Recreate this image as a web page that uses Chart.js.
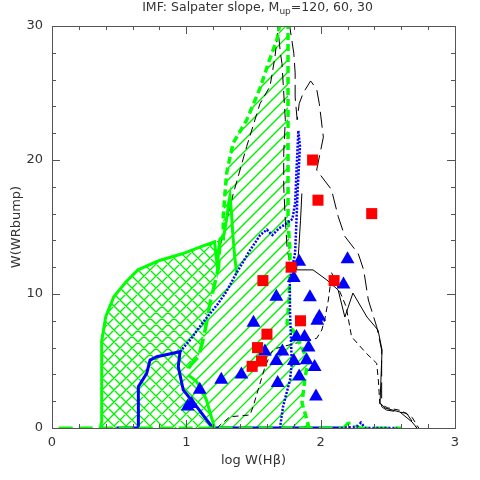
<!DOCTYPE html>
<html><head><meta charset="utf-8">
<script src="https://cdn.jsdelivr.net/npm/chart.js@4.4.0/dist/chart.umd.min.js"></script>
<style>html,body{margin:0;padding:0;background:#fff}</style>
</head><body>
<canvas id="c" width="480" height="480" style="width:480px;height:480px;display:block"></canvas>
<script>
// ---------- data ----------
const redSquaresX = [1.94,1.98,2.38,1.78,1.57,2.10,1.85,1.60,1.53,1.56,1.49];
const redSquaresY = [20.0,17.0,16.0,12.0,11.0,11.0,8.0,7.0,6.0,5.0,4.6];

const blueTrianglesX = [1.84,2.20,1.80,2.17,1.67,1.92,1.50,1.99,1.975,1.82,1.88,1.585,1.715,1.91,1.67,1.80,1.895,1.955,1.41,1.26,1.84,1.68,1.965,1.10,1.01,1.04];
const blueTrianglesY = [12.4,12.6,11.2,10.7,9.8,9.75,7.85,8.3,8.0,6.8,6.8,5.7,5.7,6.0,5.0,5.0,5.05,4.55,4.0,3.6,3.85,3.35,2.35,2.85,1.6,1.8];

const crossHatchX = [0.36,0.37,0.37,0.40,0.46,0.55,0.64,0.80,0.97,1.10,1.24,1.25,1.24,1.20,1.176,1.15,1.125,1.09,1.04,0.99,1.015,1.077,1.115,1.15,1.21];
const crossHatchY = [0,0.5,6.5,8.3,9.8,10.9,11.8,12.5,13.0,13.5,14.0,14.0,12.0,10.3,9.3,7.8,6.6,5.3,4.8,4.1,3.96,3.46,2.84,2.09,0];

const singleHatchX = [1.21,1.15,1.115,1.077,1.015,0.99,1.04,1.09,1.125,1.15,1.176,1.20,1.24,1.25,1.275,1.275,1.29,1.30,1.325,1.35,1.45,1.55,1.62,1.675,1.70,1.757,1.757,1.757,1.772,1.765,1.75,1.80,1.87,1.906,1.884,1.861,1.898,1.913];
const singleHatchY = [0,2.09,2.84,3.46,3.96,4.1,4.8,5.3,6.6,7.8,9.3,10.3,12.0,14.0,14.0,15.8,17.8,19.0,20.2,21.3,23.0,25.4,27.5,29.0,30,30,23.0,15.5,13.06,9.55,7.8,7.2,5.8,4.85,3.81,1.87,0.6,0];

const greenSolidX = [0.36,0.37,0.37,0.40,0.46,0.55,0.64,0.80,0.97,1.10,1.21,1.23,1.25,1.28,1.30,1.315,1.325,1.335,1.345,1.36,1.375];
const greenSolidY = [0,0.5,6.5,8.3,9.8,10.9,11.8,12.5,13.0,13.5,13.9,12.1,14.1,14.4,15.6,16.8,17.3,16.2,14.6,12.8,11.5];
const greenSolidLowX = [1.015,1.077,1.115,1.15,1.21];
const greenSolidLowY = [3.96,3.46,2.84,2.09,0];

const greenLongDashX = [1.25,1.24,1.20,1.176,1.15,1.125,1.09,1.04,0.99];
const greenLongDashY = [14.0,12.0,10.3,9.3,7.8,6.6,5.3,4.8,4.1];

const greenShortDashX = [1.275,1.275,1.29,1.30,1.325,1.35,1.45,1.55,1.62,1.675,1.73,1.757,1.757,1.757,1.772,1.765,1.75,1.80,1.87,1.906,1.884,1.861,1.898,1.913];
const greenShortDashY = [14.0,15.8,17.8,19.0,20.2,21.3,23.0,25.4,27.5,29.0,32,30,23.0,15.5,13.06,9.55,7.8,7.2,5.8,4.85,3.81,1.87,0.6,0];

const greenBaseX = [0.05,2.17,2.20,2.24,2.27,2.30,2.60];
const greenBaseY = [0,0,0.35,0.4,0.1,0,0];

const blueSolidX = [0.48,0.643,0.643,0.705,0.73,0.78,0.953,0.94,0.977,1.077,1.19,1.20,2.15];
const blueSolidY = [0,0,3.08,4.08,5.07,5.32,5.69,4.57,2.84,1.59,0.1,0,0];

const blueDotX = [0.953,1.03,1.125,1.23,1.30,1.375,1.47,1.55,1.60,1.64,1.69,1.75,1.79,1.81,1.82,1.834,1.846,1.83,1.82,1.81,1.77,1.772,1.785,1.772,1.72,1.697];
const blueDotY = [5.69,6.6,7.9,9.2,10.2,11.6,13.2,14.4,14.8,14.4,14.9,15.3,15.6,16.8,19.2,22.2,21.0,18.0,15.5,13.1,11.0,8.6,4.85,3.6,1.6,0];
const blueDotBaseX = [2.15,2.27,2.30,2.33,2.57];
const blueDotBaseY = [0,0.1,0.4,0,0];

const blackLongDashX = [1.762,1.80,1.81,1.81,1.825,1.84,1.87,1.925,1.97,1.99,2.02,1.97,2.08,2.13,2.18,2.28,2.32,2.355,2.417,2.454,2.454,2.49,2.64,2.715];
const blackLongDashY = [30.5,27.96,26.5,24.7,23.0,24.2,25.0,25.9,25.3,24.2,21.7,19.25,17.8,15.8,14.3,13.0,11.8,9.55,7.56,5.82,1.59,1.34,1.1,0];

const blackDashInnerX = [1.675,1.70,1.712,1.725,1.737,1.725,1.725,1.737,1.75,1.765];
const blackDashInnerY = [30.5,28.0,27.2,25.0,23.0,20.5,18.0,15.5,13.5,12.5];

const blackShortLeftX = [1.69,1.66,1.623,1.548,1.449,1.35,1.275,1.25];
const blackShortLeftY = [30.5,27.7,25.5,24.2,21.0,17.5,14.5,13.5];

const blackShortRightX = [1.226,1.325,1.474,1.497,1.534,1.586,1.635,1.673,1.81,1.97,2.008,2.03,2.057,2.07,2.08,2.10,2.15,2.19,2.23,2.34,2.417,2.43,2.44,2.50,2.60,2.68,2.73];
const blackShortRightY = [0,0.84,0.97,1.59,2.84,4.57,5.69,5.95,6.32,6.69,7.31,8.06,9.55,10.55,11.6,11.2,10.0,9.05,6.81,5.57,4.83,3.5,1.8,1.5,1.3,0.8,0];

const blackSolidX = [1.86,1.85,1.835,1.82,1.943,2.047,2.13,2.18,2.24,2.345,2.427,2.457,2.442,2.48,2.59,2.68,2.717];
const blackSolidY = [17.5,15.5,13.06,11.8,11.8,11.04,10.3,8.28,10.07,8.28,7.31,5.82,1.87,1.49,1.19,0.45,0];

const xTickLabels = [0,1,2,3];
const yTickLabels = [0,10,20,30];
const xMinorTicks = [0.2,0.4,0.6,0.8,1.2,1.4,1.6,1.8,2.2,2.4,2.6,2.8];
const yMinorTicks = [2,4,6,8,12,14,16,18,22,24,26,28];

const titleMain = 'IMF: Salpater slope, M';
const titleSub = 'up';
const titleRest = '=120, 60, 30';
const xTitle = 'log W(H\u03B2)';
const yTitle = 'W(WRbump)';

// ---------- helpers ----------
function pts(xs, ys){ return xs.map((x,i)=>({x:x, y:ys[i]})); }
const GREEN = '#00ff00', BLUE = '#0000ff', RED = '#ff0000', BLACK = '#000000';
const HATCH = '#00f000';
function lineDs(xs, ys, color, width, dash, order){
  return {type:'scatter', showLine:true, data:pts(xs,ys), borderColor:color, borderWidth:width,
    borderDash:dash, pointRadius:0, fill:false, tension:0, order:order};
}

const TXT = '#333333';
const FONT = 'DejaVu Sans';

// hatched areas: polygon from the data arrays through the chart's scales, then clipped diagonal lines
function hatchRegion(chart, xs, ys, cross){
  const {ctx, chartArea:a, scales:{x, y}} = chart;
  ctx.save();
  ctx.beginPath();
  ctx.rect(a.left, a.top, a.right-a.left, a.bottom-a.top);
  ctx.clip();
  ctx.beginPath();
  xs.forEach((v,i)=>{
    const px = x.getPixelForValue(v), py = y.getPixelForValue(ys[i]);
    if (i===0) ctx.moveTo(px,py); else ctx.lineTo(px,py);
  });
  ctx.closePath();
  ctx.clip();
  ctx.strokeStyle = HATCH; ctx.lineWidth = 1.3;
  ctx.beginPath();
  const sp = 12, W = chart.width, H = chart.height;
  for (let k = -H; k < W + H; k += sp){
    ctx.moveTo(k, H); ctx.lineTo(k + H, 0);
    if (cross){ ctx.moveTo(k, 0); ctx.lineTo(k + H, H); }
  }
  ctx.stroke();
  ctx.restore();
}
const hatchPlugin = {
  id:'hatch',
  beforeDatasetsDraw(chart){
    hatchRegion(chart, singleHatchX, singleHatchY, false);
    hatchRegion(chart, crossHatchX, crossHatchY, true);
  }
};

const framePlugin = {
  id:'frame',
  afterDraw(chart){
    const {ctx, chartArea:a, scales:{x, y}} = chart;
    ctx.save();
    ctx.strokeStyle = '#555555'; ctx.lineWidth = 1;
    ctx.strokeRect(Math.round(a.left)+0.5, Math.round(a.top)+0.5, Math.round(a.right-a.left), Math.round(a.bottom-a.top));
    ctx.beginPath();
    const tk = (v, len, horiz) => {
      if (horiz){
        const px = Math.round(x.getPixelForValue(v))+0.5;
        ctx.moveTo(px, a.bottom); ctx.lineTo(px, a.bottom-len);
        ctx.moveTo(px, a.top); ctx.lineTo(px, a.top+len);
      } else {
        const py = Math.round(y.getPixelForValue(v))+0.5;
        ctx.moveTo(a.left, py); ctx.lineTo(a.left+len, py);
        ctx.moveTo(a.right, py); ctx.lineTo(a.right-len, py);
      }
    };
    xTickLabels.forEach(v=>tk(v,8,true));
    xMinorTicks.forEach(v=>tk(v,4,true));
    yTickLabels.forEach(v=>tk(v,8,false));
    yMinorTicks.forEach(v=>tk(v,4,false));
    ctx.stroke();
    ctx.fillStyle = TXT;
    ctx.textBaseline = 'alphabetic';
    ctx.textAlign = 'left';
    const f1 = '12.5px "' + FONT + '"', f2 = '9px "' + FONT + '"';
    ctx.font = f1; const w1 = ctx.measureText(titleMain).width; const w3 = ctx.measureText(titleRest).width;
    ctx.font = f2; const w2 = ctx.measureText(titleSub).width;
    let sx = (a.left + a.right)/2 + 4 - (w1+w2+w3)/2;
    ctx.font = f1; ctx.fillText(titleMain, sx, 11);
    ctx.font = f2; ctx.fillText(titleSub, sx + w1, 14);
    ctx.font = f1; ctx.fillText(titleRest, sx + w1 + w2, 11);
    ctx.restore();
  }
};

const datasets = [
  {type:'scatter', data:pts(redSquaresX, redSquaresY), pointStyle:'rect', pointRadius:7.8,
    backgroundColor:RED, borderColor:RED, borderWidth:0, showLine:false, order:0},
  {type:'scatter', data:pts(blueTrianglesX, blueTrianglesY), pointStyle:'triangle', pointRadius:8,
    backgroundColor:BLUE, borderColor:BLUE, borderWidth:0, showLine:false, order:1},
  lineDs(blueDotX, blueDotY, BLUE, 2.5, [2,1.5], 3),
  lineDs(blueDotBaseX, blueDotBaseY, BLUE, 2.5, [2,2], 3),
  lineDs(greenShortDashX, greenShortDashY, GREEN, 3.5, [7,4], 4),
  lineDs(greenLongDashX, greenLongDashY, GREEN, 3.5, [14,6], 4),
  lineDs(greenSolidX, greenSolidY, GREEN, 3, [], 4),
  lineDs(greenSolidLowX, greenSolidLowY, GREEN, 3, [], 4),
  lineDs(greenBaseX, greenBaseY, GREEN, 3, [14,6], 5),
  lineDs(blueSolidX, blueSolidY, BLUE, 3, [], 6),
  lineDs(blackLongDashX, blackLongDashY, BLACK, 1, [16,6], 7),
  lineDs(blackDashInnerX, blackDashInnerY, BLACK, 1, [12,6], 7),
  lineDs(blackShortLeftX, blackShortLeftY, BLACK, 1, [9,5], 7),
  lineDs(blackShortRightX, blackShortRightY, BLACK, 1, [6,4], 7),
  lineDs(blackSolidX, blackSolidY, BLACK, 1, [], 7)
];

new Chart(document.getElementById('c'), {
  type:'scatter',
  data:{datasets:datasets},
  plugins:[hatchPlugin, framePlugin],
  options:{
    responsive:false, animation:false, devicePixelRatio:1, events:[],
    layout:{padding:{left:0, right:25, top:26, bottom:0}},
    plugins:{legend:{display:false}, tooltip:{enabled:false}, title:{display:false}},
    scales:{
      x:{type:'linear', min:0, max:3,
        afterBuildTicks(s){ s.ticks = xTickLabels.map(v=>({value:v})); },
        afterFit(s){ s.height = 52; },
        grid:{display:false, drawTicks:false}, border:{display:false},
        ticks:{padding:7, color:TXT, font:{family:FONT, size:13}, callback:v=>String(v), maxRotation:0},
        title:{display:true, text:xTitle, color:TXT, font:{family:FONT, size:13}, padding:{top:0,bottom:12}}},
      y:{type:'linear', min:0, max:30,
        afterBuildTicks(s){ s.ticks = yTickLabels.map(v=>({value:v})); },
        afterFit(s){ s.width = 52; },
        grid:{display:false, drawTicks:false}, border:{display:false},
        ticks:{padding:9, color:TXT, font:{family:FONT, size:13}, callback:v=>String(v)},
        title:{display:true, text:yTitle, color:TXT, font:{family:FONT, size:13}, padding:{top:9,bottom:0}}}
    }
  }
});
</script>
</body></html>
